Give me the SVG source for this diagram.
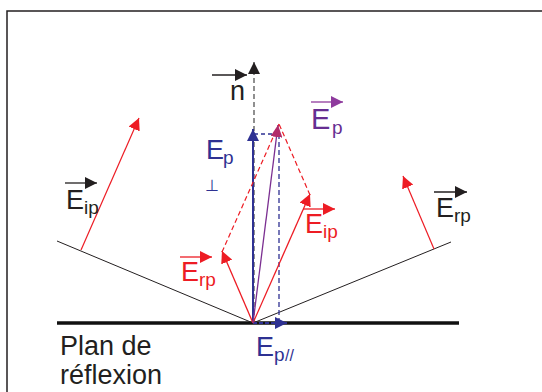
<svg xmlns="http://www.w3.org/2000/svg" width="542" height="392" viewBox="0 0 542 392">
<style>
text{font-family:"Liberation Sans",Arial,sans-serif}
.big{font-size:27px}
.sub{font-size:19px}
.k{fill:#231f20}
.r{fill:#ed1c24}
.b{fill:#2e3192}
.pu{fill:#662d91}
</style>
<defs>
<marker id="ak" markerUnits="userSpaceOnUse" markerWidth="14" markerHeight="12" refX="12" refY="6" orient="auto"><path d="M0,0 L12,6 L0,12 Z" fill="#231f20"/></marker>
<marker id="ar" markerUnits="userSpaceOnUse" markerWidth="14" markerHeight="12" refX="12" refY="6" orient="auto"><path d="M0,0 L12,6 L0,12 Z" fill="#ed1c24"/></marker>
<marker id="ab" markerUnits="userSpaceOnUse" markerWidth="14" markerHeight="12" refX="12" refY="6" orient="auto"><path d="M0,0 L12,6 L0,12 Z" fill="#2e3192"/></marker>
<marker id="ap" markerUnits="userSpaceOnUse" markerWidth="14" markerHeight="12" refX="12" refY="6" orient="auto"><path d="M0,0 L12,6 L0,12 Z" fill="#8e3a9d"/></marker>
<marker id="apk" markerUnits="userSpaceOnUse" markerWidth="14" markerHeight="12" refX="12" refY="6" orient="auto"><path d="M0,0 L12,6 L0,12 Z" fill="#b12a6a"/></marker>
</defs>
<path d="M7,392 V11 H542" fill="none" stroke="#231f20" stroke-width="1.5"/>
<g id="surface">
<line x1="57" y1="323" x2="459" y2="323" stroke="#111" stroke-width="3.5"/>
<line x1="57" y1="241" x2="253" y2="323" stroke="#231f20" stroke-width="1"/>
<line x1="253" y1="323" x2="451" y2="242" stroke="#231f20" stroke-width="1"/>
</g>
<g id="connectors" fill="none">
<line x1="254" y1="323" x2="254" y2="62" stroke="#555" stroke-width="1.3" stroke-dasharray="5,3" marker-end="url(#ak)"/>
<line x1="81" y1="250" x2="139" y2="118" stroke="#ed1c24" stroke-width="1.2" marker-end="url(#ar)"/>
<line x1="434" y1="249" x2="403" y2="176" stroke="#ed1c24" stroke-width="1.2" marker-end="url(#ar)"/>
<line x1="279" y1="134" x2="279" y2="323" stroke="#2e3192" stroke-width="1.3" stroke-dasharray="5,3"/>
<line x1="254" y1="134" x2="279" y2="134" stroke="#2e3192" stroke-width="1.3" stroke-dasharray="4,3"/>
<line x1="253" y1="323" x2="253" y2="129" stroke="#2e3192" stroke-width="2" marker-end="url(#ab)"/>
<line x1="253" y1="323" x2="287" y2="323" stroke="#2e3192" stroke-width="2" stroke-dasharray="4,2" marker-end="url(#ab)"/>
<line x1="253" y1="323" x2="310" y2="194" stroke="#ed1c24" stroke-width="1.3" marker-end="url(#ar)"/>
<line x1="253" y1="323" x2="222" y2="251" stroke="#ed1c24" stroke-width="1.3" marker-end="url(#ar)"/>
<line x1="222" y1="252" x2="279" y2="124" stroke="#ed1c24" stroke-width="1.2" stroke-dasharray="5,3"/>
<line x1="310" y1="195" x2="279" y2="124" stroke="#ed1c24" stroke-width="1.2" stroke-dasharray="5,3"/>
<line x1="253" y1="323" x2="278" y2="125" stroke="#7b2f91" stroke-width="1.3" marker-end="url(#apk)"/>
</g>
<g id="n">
<line x1="212" y1="75" x2="247" y2="75" stroke="#231f20" stroke-width="1.3" marker-end="url(#ak)"/>
<text x="230" y="100" class="big k">n</text>
</g>
<g id="Ep">
<line x1="311" y1="102" x2="343" y2="102" stroke="#8e3a9d" stroke-width="1.3" marker-end="url(#ap)"/>
<text x="311" y="129" class="pu" font-size="29">E</text>
<text x="332" y="134" class="sub pu">p</text>
</g>
<g id="Epperp">
<text x="206" y="159" class="big b">E</text>
<text x="223" y="164" class="sub b">p</text>
<text x="205" y="191" class="b" font-size="16">⊥</text>
</g>
<g id="Eip_black">
<line x1="65" y1="183" x2="97" y2="183" stroke="#231f20" stroke-width="1.3" marker-end="url(#ak)"/>
<text x="66" y="209" class="big k">E</text>
<text x="84" y="214" class="sub k">ip</text>
</g>
<g id="Erp_black">
<line x1="434" y1="192" x2="467" y2="192" stroke="#231f20" stroke-width="1.3" marker-end="url(#ak)"/>
<text x="436" y="217" class="big k">E</text>
<text x="454" y="222" class="sub k">rp</text>
</g>
<g id="Eip_red">
<line x1="303" y1="209" x2="335" y2="209" stroke="#ed1c24" stroke-width="1.3" marker-end="url(#ar)"/>
<text x="305" y="233" class="big r">E</text>
<text x="323" y="238" class="sub r">ip</text>
</g>
<g id="Erp_red">
<line x1="180" y1="257" x2="212" y2="257" stroke="#ed1c24" stroke-width="1.3" marker-end="url(#ar)"/>
<text x="181" y="281" class="big r">E</text>
<text x="199" y="286" class="sub r">rp</text>
</g>
<g id="Eppar">
<text x="256" y="356" class="big b">E</text>
<text x="274" y="361" class="sub b">p</text>
<text x="285" y="361" class="b" font-size="16">//</text>
</g>
<g id="plan">
<text x="60" y="355" class="big k">Plan de</text>
<text x="60" y="384" class="big k">réflexion</text>
</g>
</svg>
